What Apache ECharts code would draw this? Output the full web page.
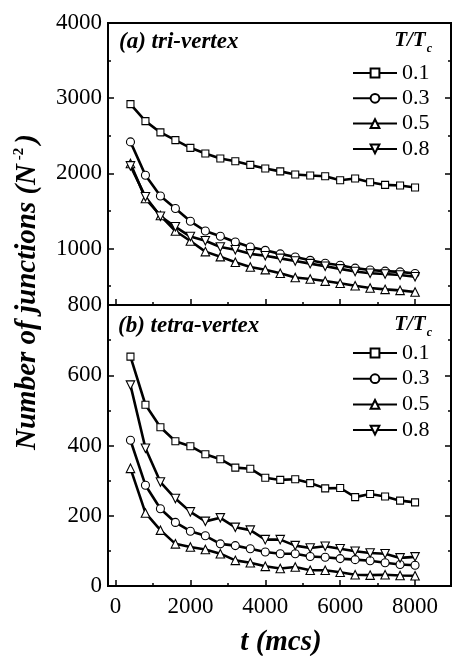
<!DOCTYPE html>
<html><head><meta charset="utf-8">
<script src="https://cdn.jsdelivr.net/npm/echarts@6/dist/echarts.min.js"></script>
<style>html,body{margin:0;padding:0;background:#fff}#c{width:453px;height:656px}</style>
</head><body><div id="c"></div>
<script>
const times = [400,800,1200,1600,2000,2400,2800,3200,3600,4000,4400,4800,5200,5600,6000,6400,6800,7200,7600,8000];
const seriesNames = ['0.1','0.3','0.5','0.8'];
const tri01 = [2921,2695,2545,2442,2340,2265,2198,2162,2113,2065,2027,1985,1972,1963,1909,1932,1883,1847,1839,1812];
const tri03 = [2419,1976,1700,1533,1363,1234,1164,1088,1021,977,930,888,844,805,778,740,715,700,690,668];
const tri05 = [2131,1666,1440,1234,1101,960,893,818,755,720,672,615,595,568,540,505,476,458,445,422];
const tri08 = [2100,1690,1430,1290,1160,1105,1022,985,930,905,870,835,800,765,730,695,672,662,648,625];
const tetra01 = [653,516,452,412,398,375,361,337,334,308,302,304,293,278,279,253,262,255,243,238];
const tetra03 = [415,287,220,181,156,143,120,115,106,97,92,92,84,82,78,75,72,66,61,59];
const tetra05 = [335,208,159,120,111,104,92,73,66,56,50,54,45,45,39,32,31,32,30,29];
const tetra08 = [572,392,296,249,211,184,194,167,159,132,132,115,108,113,106,99,94,92,80,83];
const xLabelTicks = [0,2000,4000,6000,8000];
const xMinorTicks = [1000,3000,5000,7000];
const topYLabels = [1000,2000,3000,4000];
const topYMinor = [500,1500,2500,3500];

const FONT = 'Liberation Serif';
const symbols = [['rect',0,7],['circle',0,8],['triangle',0,8.5],['triangle',180,8.5]];
const plain = v => String(v);

function mkSeries(name, data, xi, yi, k){
  return {
    name: name, type:'line', xAxisIndex: xi, yAxisIndex: yi,
    data: times.map((t,i)=>[t,data[i]]),
    symbol: symbols[k][0], symbolRotate: symbols[k][1], symbolSize: symbols[k][2],
    showAllSymbol: true,
    lineStyle:{color:'#000', width:2.6},
    itemStyle:{color:'#fff', borderColor:'#000', borderWidth:1.1},
    emphasis:{disabled:true}, animation:false, z:3
  };
}
const triData = [tri01,tri03,tri05,tri08];
const tetraData = [tetra01,tetra03,tetra05,tetra08];
const series = [];
triData.forEach((d,k)=>series.push(mkSeries(seriesNames[k], d, 0, 0, k)));
tetraData.forEach((d,k)=>series.push(mkSeries(seriesNames[k], d, 2, 5, k)));

function xAx(grid, labels, ticks, len, showLine){
  return {type:'value', gridIndex:grid, min:-200, max:8960, position:'bottom',
    axisLine:{show:showLine, onZero:false, lineStyle:{color:'#000', width:2}},
    axisTick:{show:true, inside:true, length:len, customValues:ticks, lineStyle:{color:'#000', width:1.5}},
    axisLabel:labels ? {show:true, customValues:labels, formatter:plain, color:'#000', fontFamily:FONT, fontSize:23, margin:9} : {show:false},
    splitLine:{show:false}};
}
function topY(pos, labels, ticks, len, showLine){
  return {type:'value', gridIndex:0, min:250, max:4000, position:pos,
    axisLine:{show:showLine, onZero:false, lineStyle:{color:'#000', width:2}},
    axisTick:{show:true, inside:true, length:len, customValues:ticks, lineStyle:{color:'#000', width:1.5}},
    axisLabel:labels ? {show:true, customValues:labels, formatter:plain, color:'#000', fontFamily:FONT, fontSize:23, margin:6} : {show:false},
    splitLine:{show:false}};
}
function botY(pos, showLabel){
  return {type:'value', gridIndex:1, min:0, max:800, interval:200, position:pos,
    axisLine:{show:true, onZero:false, lineStyle:{color:'#000', width:2}},
    axisTick:{show:true, inside:true, length:6, lineStyle:{color:'#000', width:1.5}},
    minorTick:{show:true, splitNumber:2, length:3, lineStyle:{color:'#000', width:1.5}},
    axisLabel:showLabel ? {show:true, formatter:plain, color:'#000', fontFamily:FONT, fontSize:23, margin:6} : {show:false},
    splitLine:{show:false}};
}
const legendBase = {orient:'vertical', left:352, itemWidth:44, itemHeight:11, padding:0,
  data:seriesNames, selectedMode:false,
  textStyle:{color:'#000', fontFamily:FONT, fontSize:22, lineHeight:22}};
const option = {
  animation:false,
  backgroundColor:'#fff',
  grid:[
    {left:108, top:23, width:343, height:282, show:true, borderColor:'#000', borderWidth:2, backgroundColor:'transparent'},
    {left:108, top:305, width:343, height:281, show:true, borderColor:'#000', borderWidth:2, backgroundColor:'transparent'}
  ],
  xAxis:[
    xAx(0, null, xLabelTicks, 6, true),
    xAx(0, null, xMinorTicks, 3, false),
    xAx(1, xLabelTicks, xLabelTicks, 6, true),
    xAx(1, null, xMinorTicks, 3, false)
  ],
  yAxis:[
    topY('left', topYLabels, topYLabels, 6, true),
    topY('left', null, topYMinor, 3, false),
    topY('right', null, topYLabels, 6, true),
    topY('right', null, topYMinor, 3, false),
    botY('right', false),
    botY('left', true)
  ],
  legend:[
    Object.assign({}, legendBase, {top:62, itemGap:3.3}),
    Object.assign({}, legendBase, {top:342, itemGap:3.7})
  ],
  graphic:[
    {type:'text', x:28, y:292, rotation:Math.PI/2, z:10,
      style:{text:'{a|Number of junctions (N}{s| -2}{a|)}', align:'center', verticalAlign:'middle', fill:'#000',
        rich:{a:{fontFamily:FONT, fontSize:29, fontStyle:'italic', fontWeight:'bold', fill:'#000', lineHeight:32},
              s:{fontFamily:FONT, fontSize:15, fontWeight:'bold', fill:'#000', verticalAlign:'top', lineHeight:32, padding:[0,4,14,0]}}}},
    {type:'text', x:281, y:643, z:10,
      style:{text:'t (mcs)', align:'center', verticalAlign:'middle', fill:'#000',
        font:'italic bold 29px "Liberation Serif"'}},
    {type:'text', x:119, y:42, z:10,
      style:{text:'(a) tri-vertex', align:'left', verticalAlign:'middle', fill:'#000',
        font:'italic bold 23px "Liberation Serif"'}},
    {type:'text', x:118, y:326, z:10,
      style:{text:'(b) tetra-vertex', align:'left', verticalAlign:'middle', fill:'#000',
        font:'italic bold 23px "Liberation Serif"'}},
    {type:'text', x:432, y:41, z:10,
      style:{text:'{a|T/T}{s|c}', align:'right', verticalAlign:'middle', fill:'#000',
        rich:{a:{fontFamily:FONT, fontSize:21, fontStyle:'italic', fontWeight:'bold', fill:'#000'},
              s:{fontFamily:FONT, fontSize:12, fontStyle:'italic', fontWeight:'bold', fill:'#000', padding:[16,0,0,1]}}}},
    {type:'text', x:432, y:325, z:10,
      style:{text:'{a|T/T}{s|c}', align:'right', verticalAlign:'middle', fill:'#000',
        rich:{a:{fontFamily:FONT, fontSize:21, fontStyle:'italic', fontWeight:'bold', fill:'#000'},
              s:{fontFamily:FONT, fontSize:12, fontStyle:'italic', fontWeight:'bold', fill:'#000', padding:[16,0,0,1]}}}}
  ],
  series: series
};
const chart = echarts.init(document.getElementById('c'), null, {renderer:'canvas'});
chart.setOption(option);
</script></body></html>
